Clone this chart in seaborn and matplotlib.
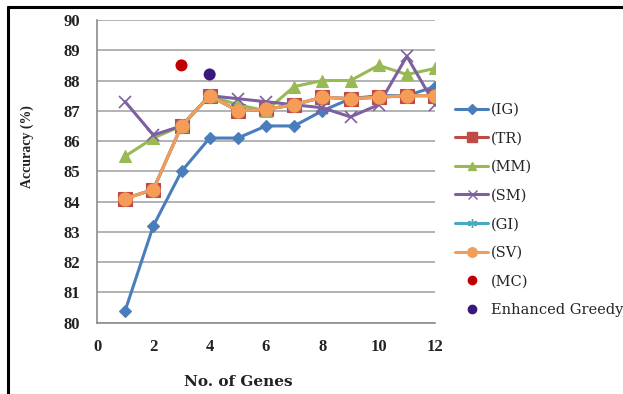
import numpy as np
import pandas as pd
import matplotlib
matplotlib.use("Agg")
import matplotlib.pyplot as plt
from matplotlib.lines import Line2D
import seaborn as sns

# Number of selected genes
genes = [1, 2, 3, 4, 5, 6, 7, 8, 9, 10, 11, 12]

# Classification accuracy (%) per feature-ranking method
acc_ig = [80.4, 83.2, 85.0, 86.1, 86.1, 86.5, 86.5, 87.0, 87.4, 87.5, 87.5, 87.8]
acc_tr = [84.1, 84.4, 86.5, 87.5, 87.0, 87.05, 87.2, 87.45, 87.4, 87.45, 87.5, 87.5]
acc_mm = [85.5, 86.1, 86.5, 87.5, 87.2, 87.0, 87.8, 88.0, 88.0, 88.5, 88.2, 88.4]
acc_sm = [87.3, 86.2, 86.5, 87.5, 87.4, 87.3, 87.2, 87.1, 86.8, 87.2, 88.8, 87.2]
acc_gi = [84.1, 84.4, 86.5, 87.5, 87.0, 87.05, 87.2, 87.45, 87.4, 87.45, 87.5, 87.5]
acc_sv = [84.1, 84.4, 86.5, 87.5, 87.0, 87.05, 87.2, 87.45, 87.4, 87.45, 87.5, 87.5]

# Single-point results
mc_genes, mc_acc = [3], [88.5]
eg_genes, eg_acc = [4], [88.2]

x_ticks = [0, 2, 4, 6, 8, 10, 12]
y_ticks = [80, 81, 82, 83, 84, 85, 86, 87, 88, 89, 90]

series = [
    ("(IG)", acc_ig, "#4A7EBB", "D", 6.5),
    ("(TR)", acc_tr, "#BE4B48", "s", 9.5),
    ("(MM)", acc_mm, "#98B954", "^", 8.5),
    ("(SM)", acc_sm, "#7D60A0", "x", 9),
    ("(GI)", acc_gi, "#46AAC5", (6, 2, 0), 9),
    ("(SV)", acc_sv, "#F59D56", "o", 9.5),
]

sns.set_style("white")
plt.rcParams["font.family"] = ["Liberation Serif", "DejaVu Serif"]

fig = plt.figure(figsize=(6.23, 3.94), dpi=100)
ax = fig.add_axes([97 / 623, 1 - 322.7 / 394, (435 - 97) / 623, (322.7 - 20) / 394])

handles = []
for name, vals, color, marker, ms in series:
    df = pd.DataFrame({"genes": genes, "acc": vals})
    sns.lineplot(data=df, x="genes", y="acc", ax=ax, color=color, linewidth=2.2,
                 marker=marker, markersize=ms, markeredgecolor=color,
                 markeredgewidth=1.2 if marker in ("x", (6, 2, 0)) else 0.8,
                 legend=False, zorder=3)
    handles.append(Line2D([0], [0], color=color, lw=2.2, marker=marker,
                          markersize=ms * 0.72, markeredgecolor=color, label=name))

df_mc = pd.DataFrame({"genes": mc_genes, "acc": mc_acc})
df_eg = pd.DataFrame({"genes": eg_genes, "acc": eg_acc})
sns.scatterplot(data=df_mc, x="genes", y="acc", ax=ax, color="#C00000", s=75,
                edgecolor="none", legend=False, zorder=4)
sns.scatterplot(data=df_eg, x="genes", y="acc", ax=ax, color="#3B1780", s=75,
                edgecolor="none", legend=False, zorder=4)
handles.append(Line2D([0], [0], color="#C00000", lw=0, marker="o", markersize=6,
                      label="(MC)"))
handles.append(Line2D([0], [0], color="#3B1780", lw=0, marker="o", markersize=6,
                      label="Enhanced Greedy"))

ax.set_xlim(0, 12)
ax.set_ylim(80, 90)
ax.set_xticks(x_ticks)
ax.set_yticks(y_ticks)
ax.set_xticklabels([str(t) for t in x_ticks])
ax.set_yticklabels([str(t) for t in y_ticks])
ax.set_xlabel("")
ax.set_ylabel("")
ax.yaxis.grid(True, color="#A6A6A6", linewidth=1.2)
ax.xaxis.grid(False)
for side in ("top", "right"):
    ax.spines[side].set_visible(False)
for side in ("left", "bottom"):
    ax.spines[side].set_color("#8C8C8C")
    ax.spines[side].set_linewidth(1.2)
ax.tick_params(axis="both", which="both", direction="out", length=5, width=1.2,
               color="#8C8C8C", labelsize=12, pad=7)
for lab in ax.get_xticklabels() + ax.get_yticklabels():
    lab.set_fontweight("bold")
    lab.set_color("#222222")

fig.text(238 / 623, 1 - 382 / 394, "No. of Genes", ha="center", va="center",
         fontsize=11, fontweight="bold", color="#222222",
         family=["DejaVu Serif"])
fig.text(27 / 623, 1 - 147 / 394, "Accuracy (%)", ha="center", va="center",
         rotation=90, fontsize=10, fontweight="bold", color="#222222")

fig.legend(handles=handles, loc="upper left", bbox_to_anchor=(449 / 623, 1 - 97 / 394),
           frameon=False, prop={"family": "DejaVu Serif", "size": 10.5},
           handlelength=2.3, handletextpad=0.15, labelspacing=1.0, borderaxespad=0)

# Frame lines along the top and left edges
fig.add_artist(Line2D([8 / 623, 1], [1 - 7 / 394, 1 - 7 / 394], color="black", lw=2.2,
                      transform=fig.transFigure))
fig.add_artist(Line2D([8 / 623, 8 / 623], [0, 1 - 7 / 394], color="black", lw=2.2,
                      transform=fig.transFigure))

fig.savefig("out.png", dpi=100)
